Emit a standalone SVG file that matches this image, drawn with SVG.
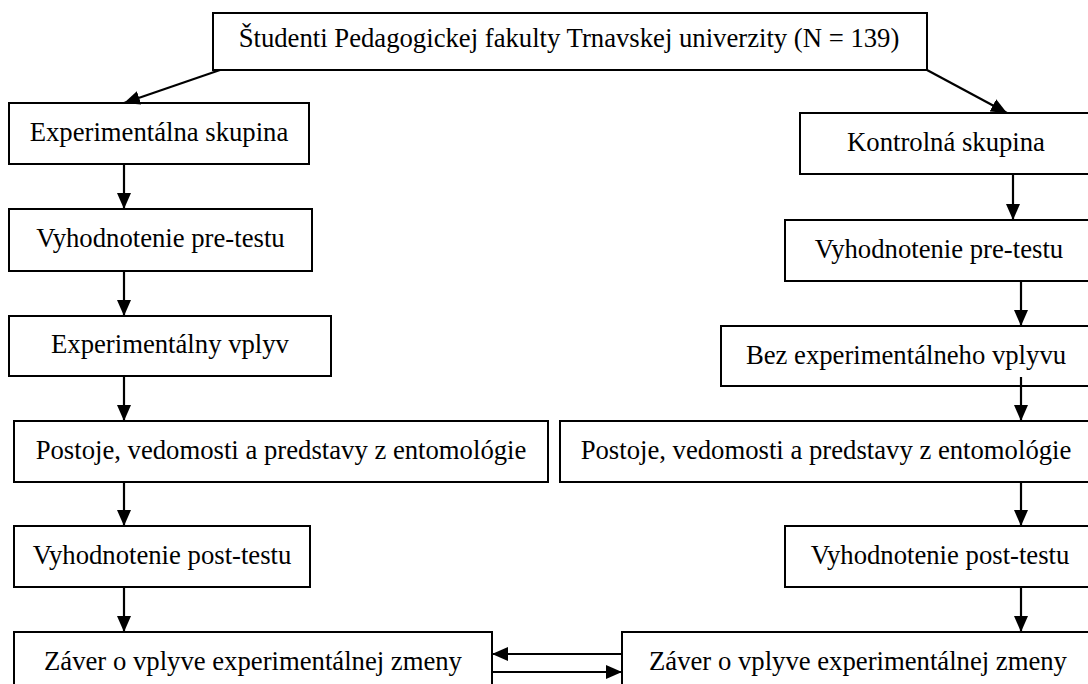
<svg xmlns="http://www.w3.org/2000/svg" width="1088" height="684" viewBox="0 0 1088 684">
<style>
.box{fill:#fff;stroke:#000;stroke-width:2}
.t{font-family:"Liberation Serif","Times New Roman",serif;font-size:26.7px;fill:#000;text-anchor:middle}
.c{stroke:#000;stroke-width:2.2;fill:none;marker-end:url(#ah)}
</style>
<defs>
<marker id="ah" markerUnits="userSpaceOnUse" markerWidth="17" markerHeight="14" refX="16" refY="7" orient="auto">
<path d="M0,0 L16,7 L0,14 Z" fill="#000"/>
</marker>
</defs>
<rect width="1088" height="684" fill="#fff"/>
<g id="top"><rect class="box" x="213" y="13" width="714" height="57"/><text class="t" x="569" y="47">Študenti Pedagogickej fakulty Trnavskej univerzity (N = 139)</text></g>
<g id="exp"><rect class="box" x="9" y="103" width="300" height="61"/><text class="t" x="159" y="141">Experimentálna skupina</text></g>
<g id="kon"><rect class="box" x="800" y="113" width="292" height="61"/><text class="t" x="946" y="151">Kontrolná skupina</text></g>
<g id="lpre"><rect class="box" x="9" y="209" width="303" height="62"/><text class="t" x="160.5" y="247">Vyhodnotenie pre-testu</text></g>
<g id="rpre"><rect class="box" x="785" y="220" width="308" height="61"/><text class="t" x="939" y="258">Vyhodnotenie pre-testu</text></g>
<g id="vplyv"><rect class="box" x="9" y="316" width="322" height="60"/><text class="t" x="170" y="353">Experimentálny vplyv</text></g>
<g id="bez"><rect class="box" x="721" y="326" width="371" height="60"/><text class="t" x="906" y="364">Bez experimentálneho vplyvu</text></g>
<g id="lpost"><rect class="box" x="14" y="421" width="534" height="61"/><text class="t" x="281" y="459">Postoje, vedomosti a predstavy z entomológie</text></g>
<g id="rpost"><rect class="box" x="560" y="421" width="532" height="61"/><text class="t" x="826" y="459">Postoje, vedomosti a predstavy z entomológie</text></g>
<g id="ltest"><rect class="box" x="14" y="526" width="296" height="61"/><text class="t" x="162" y="564">Vyhodnotenie post-testu</text></g>
<g id="rtest"><rect class="box" x="785" y="526" width="310" height="61"/><text class="t" x="940" y="564">Vyhodnotenie post-testu</text></g>
<g id="lzaver"><rect class="box" x="14" y="632" width="478" height="70"/><text class="t" x="253" y="670">Záver o vplyve experimentálnej zmeny</text></g>
<g id="rzaver"><rect class="box" x="622" y="632" width="472" height="70"/><text class="t" x="858" y="670">Záver o vplyve experimentálnej zmeny</text></g>
<g id="connectors">
<line class="c" x1="220" y1="70" x2="124" y2="103"/>
<line class="c" x1="927" y1="70" x2="1007" y2="113"/>
<line class="c" x1="124" y1="164" x2="124" y2="209"/>
<line class="c" x1="1013" y1="174" x2="1013" y2="220"/>
<line class="c" x1="124" y1="271" x2="124" y2="316"/>
<line class="c" x1="1021" y1="281" x2="1021" y2="326"/>
<line class="c" x1="124" y1="376" x2="124" y2="421"/>
<line class="c" x1="1021" y1="377" x2="1021" y2="421"/>
<line class="c" x1="124" y1="482" x2="124" y2="526"/>
<line class="c" x1="1021" y1="482" x2="1021" y2="526"/>
<line class="c" x1="124" y1="587" x2="124" y2="632"/>
<line class="c" x1="1021" y1="587" x2="1021" y2="632"/>
<line class="c" x1="622" y1="654" x2="492" y2="654"/>
<line class="c" x1="492" y1="672" x2="622" y2="672"/>
</g>
</svg>
